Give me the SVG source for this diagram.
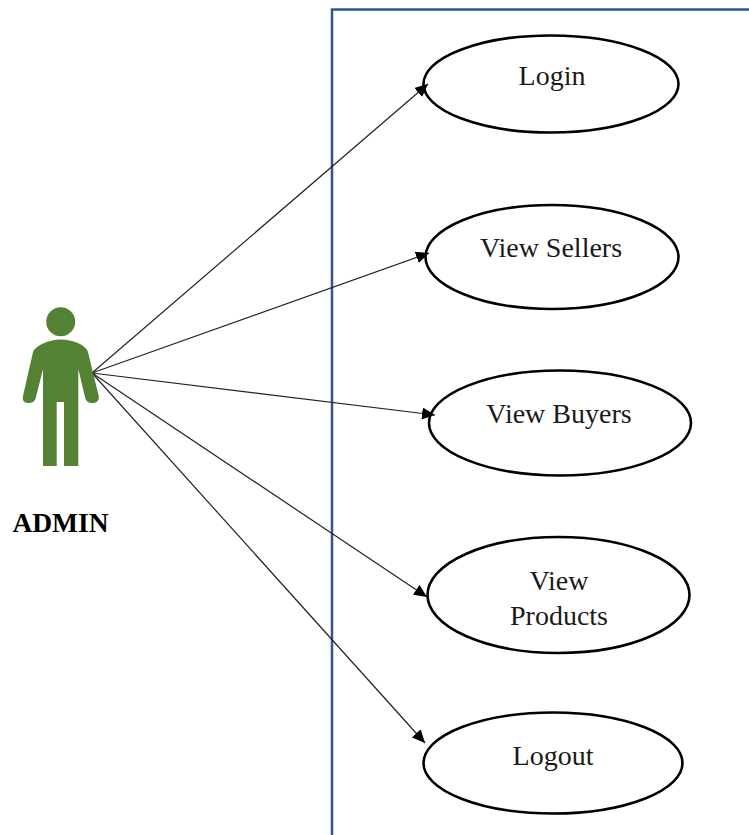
<svg xmlns="http://www.w3.org/2000/svg" width="749" height="835" viewBox="0 0 749 835">
<style>
.uc{fill:#fff;stroke:#000;stroke-width:2.6}
.t{font-family:"Liberation Serif",serif;font-size:28px;fill:#1a1a1a;text-anchor:middle}
.c{stroke:#222;stroke-width:1.2;fill:none;marker-end:url(#a)}
</style>
<defs><marker id="a" markerUnits="userSpaceOnUse" markerWidth="14" markerHeight="12" refX="13" refY="6" orient="auto"><path d="M0 0L13 6L0 12z" fill="#000"/></marker></defs>
<rect width="749" height="835" fill="#fff"/>
<path id="boundary" d="M332 835V9.500H749" fill="none" stroke="#2f5597" stroke-width="2.500"/>
<g id="n1"><ellipse class="uc" cx="551" cy="84" rx="127.500" ry="48.500"/><text class="t" x="552" y="85">Login</text></g>
<g id="n2"><ellipse class="uc" cx="552" cy="257" rx="126.500" ry="52"/><text class="t" x="551" y="257">View Sellers</text></g>
<g id="n3"><ellipse class="uc" cx="560" cy="423" rx="131" ry="52.500"/><text class="t" x="559" y="423">View Buyers</text></g>
<g id="n4"><ellipse class="uc" cx="558.500" cy="595" rx="131" ry="58"/><text class="t" x="559" y="590">View</text><text class="t" x="559" y="625">Products</text></g>
<g id="n5"><ellipse class="uc" cx="553" cy="763" rx="129.500" ry="50.500"/><text class="t" x="553" y="765">Logout</text></g>
<g id="connectors">
<path class="c" d="M92 373L428 84"/><path class="c" d="M92 373L429 253"/><path class="c" d="M92 373L435 415"/><path class="c" d="M92 373L427 597"/><path class="c" d="M92 373L425 743"/>
</g>
<g id="actor"><circle cx="60.700" cy="321.700" r="14.500" fill="#548235"/>
<path d="M43 466V369L36 397C35 402 32 403 28 403C24 403 22 400 23 396L33 352C34 349 38 346 42 344C54 338 68 338 80 344C84 346 87 349 88 352L98.700 396C99.500 400 97 403 93 403C89 403 86 402 85 397L78.300 369V466H64V402H56.700V466z" fill="#548235"/>
<text x="60.500" y="532" font-family="Liberation Serif,serif" font-size="27.500" font-weight="bold" text-anchor="middle" fill="#000">ADMIN</text></g>
</svg>
